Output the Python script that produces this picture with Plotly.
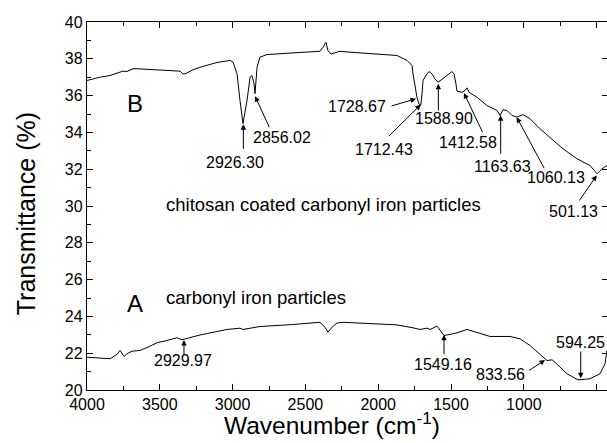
import plotly.graph_objects as go

# ---- data ----
wn_B = [4000, 3911, 3842, 3753, 3725, 3684, 3657, 3567, 3499, 3451, 3361, 3341, 3327, 3272, 3224, 3107,
        3018, 2997, 2970, 2949, 2929, 2901, 2880, 2867, 2853, 2846, 2832, 2812, 2764, 2626, 2400, 2379,
        2359, 2345, 2324, 2283, 2262, 2194, 2104, 1871, 1802, 1768, 1761, 1747, 1734, 1720, 1708, 1699,
        1692, 1665, 1651, 1630, 1610, 1589, 1562, 1527, 1493, 1479, 1466, 1459, 1424, 1404, 1390, 1376,
        1321, 1253, 1184, 1163, 1143, 1115, 1081, 1047, 1005, 957, 889, 820, 731, 635, 545, 497, 463, 429]
t_B = [36.82, 37.00, 37.09, 37.33, 37.31, 37.46, 37.46, 37.42, 37.36, 37.36, 37.33, 37.18, 37.18, 37.40, 37.54, 37.80,
       37.91, 37.82, 37.20, 35.73, 34.48, 35.73, 37.00, 37.09, 36.66, 36.11, 37.54, 38.09, 38.23, 38.30, 38.41, 38.63,
       38.90, 38.45, 38.26, 38.36, 38.41, 38.36, 38.30, 38.18, 37.91, 37.64, 37.18, 36.46, 35.91, 35.55, 35.46, 36.10,
       36.82, 37.18, 37.31, 37.18, 36.91, 36.73, 36.91, 37.09, 37.31, 37.18, 36.64, 36.24, 36.18, 36.28, 36.42, 36.18,
       35.91, 35.46, 35.19, 34.92, 35.23, 35.19, 34.92, 34.83, 34.97, 34.74, 34.20, 33.74, 33.11, 32.57, 32.20, 31.75, 32.02, 32.20]

wn_A = [4000, 3911, 3842, 3794, 3773, 3746, 3725, 3691, 3636, 3581, 3519, 3451, 3382, 3348, 3224, 3038,
        2949, 2929, 2812, 2585, 2400, 2365, 2345, 2317, 2283, 2242, 2104, 1871, 1761, 1713, 1665, 1644,
        1596, 1576, 1548, 1507, 1459, 1390, 1321, 1232, 1095, 1026, 957, 868, 841, 806, 786, 703, 628,
        546, 477, 442, 429]
t_A = [21.78, 21.75, 21.70, 21.93, 22.15, 21.82, 21.97, 22.11, 22.15, 22.33, 22.57, 22.69, 22.84, 22.73, 22.99, 23.29,
       23.36, 23.29, 23.45, 23.56, 23.68, 23.41, 23.14, 23.41, 23.64, 23.68, 23.63, 23.54, 23.38, 23.29, 23.36, 23.29,
       23.47, 23.24, 22.96, 23.02, 23.11, 23.29, 23.14, 22.91, 22.91, 22.78, 22.42, 21.78, 21.60, 21.64, 21.51, 20.88, 20.55,
       20.61, 20.88, 21.42, 22.15]

peak_labels = ["2926.30", "2856.02", "1728.67", "1712.43", "1588.90", "1412.58", "1163.63", "1060.13", "501.13",
               "2929.97", "1549.16", "833.56", "594.25"]
peak_wn = [2926, 2846, 1740, 1708, 1587, 1411, 1159, 1049, 499, 3334, 1548, 854, 609]
peak_t = [34.44, 35.97, 35.83, 35.51, 36.65, 36.14, 34.93, 34.83, 31.67, 22.72, 23.0, 21.63, 20.64]

x_ticks = [4000, 3500, 3000, 2500, 2000, 1500, 1000, 500]
y_ticks = [20, 22, 24, 26, 28, 30, 32, 34, 36, 38, 40]

# ---- layout-only offsets (pixels): arrow tail and text centre relative to arrow head ----
tail_off = [(0, 26), (15, 32.6), (-26, 7.7), (-33.4, 33), (0, 28.4), (19.3, 40.6), (0, 40), (28.3, 52.6),
            (-18.4, 26.7), (0, 16), (0, 21), (-17.5, 11.4), (0, -28.3)]
text_off = [(-8, 38), (26.5, 41.8), (-59, 7.7), (-36.7, 44.7), (5.7, 35), (4.3, 49), (1.8, 51.3), (39.3, 60),
            (-23.7, 35.8), (-1, 21), (-1, 30), (-44.4, 14), (-0.7, -35.8)]

FONT = "Arial, Liberation Sans, Helvetica, sans-serif"

fig = go.Figure()
fig.add_trace(go.Scatter(x=wn_B, y=t_B, mode="lines", line=dict(color="black", width=1), showlegend=False))
fig.add_trace(go.Scatter(x=wn_A, y=t_A, mode="lines", line=dict(color="black", width=1), showlegend=False))
# right-side tick carrier
fig.add_trace(go.Scatter(x=[wn_A[0]], y=[t_A[0]], yaxis="y2", mode="lines", showlegend=False,
                         line=dict(width=0), hoverinfo="skip"))

ann = []
for lab, w, t, (tx, ty), (lx, ly) in zip(peak_labels, peak_wn, peak_t, tail_off, text_off):
    ann.append(dict(x=w, y=t, xref="x", yref="y", text="", showarrow=True, ax=tx, ay=ty,
                    arrowhead=2, arrowsize=1.1, arrowwidth=1, arrowcolor="black", standoff=0))
    ann.append(dict(x=w, y=t, xref="x", yref="y", text=lab, showarrow=True, ax=lx, ay=ly,
                    xanchor="center", yanchor="middle",
                    arrowcolor="rgba(0,0,0,0)", arrowwidth=0.1,
                    font=dict(family=FONT, size=16, color="black")))

L, T_, B_ = 87, 21.5, 53
W, H = 607, 443
pw, ph = W - L, H - T_ - B_


def px(xp, yp):
    return (xp - L) / pw, 1 - (yp - T_) / ph


def paper_text(txt, xp, yp, size, xanchor="center", angle=0):
    xx, yy = px(xp, yp)
    return dict(x=xx, y=yy, xref="paper", yref="paper", text=txt, showarrow=False,
                xanchor=xanchor, yanchor="middle", textangle=angle,
                font=dict(family=FONT, size=size, color="black"))


ann += [
    paper_text("B", 135, 103, 24),
    paper_text("A", 135, 303, 24),
    paper_text("chitosan coated carbonyl iron particles", 164, 204, 18.5, xanchor="left"),
    paper_text("carbonyl iron particles", 164, 297, 18.5, xanchor="left"),
    paper_text("Transmittance (%)", 26, 214, 25, angle=-90),
    paper_text("Wavenumber (cm<sup>-1</sup>)", 332, 424, 24.5),
]

fig.update_layout(
    width=W, height=H,
    margin=dict(l=L, r=0, t=T_, b=B_, pad=0),
    paper_bgcolor="white", plot_bgcolor="white",
    font=dict(family=FONT, size=16, color="black"),
    annotations=ann,
    xaxis=dict(range=[4000, 4000 - pw / 0.1456], tickvals=x_ticks, ticks="inside", ticklen=6,
               tickwidth=1, tickcolor="black", showline=True, linecolor="black", linewidth=1.3,
               mirror="ticks", showgrid=False, zeroline=False,
               minor=dict(dtick=250, ticks="inside", ticklen=4, tickcolor="black", showgrid=False),
               tickfont=dict(size=16)),
    yaxis=dict(range=[20, 40], tickvals=y_ticks, ticks="inside", ticklen=6, tickwidth=1,
               tickcolor="black", showline=True, linecolor="black", linewidth=1.3, mirror=False,
               showgrid=False, zeroline=False,
               minor=dict(dtick=1, ticks="inside", ticklen=4, tickcolor="black", showgrid=False),
               tickfont=dict(size=16)),
    yaxis2=dict(range=[20, 40], overlaying="y", side="right", tickvals=y_ticks, ticks="inside",
                ticklen=5, tickcolor="black", showticklabels=False, showline=False,
                showgrid=False, zeroline=False),
)

fig.write_html("out.html")
